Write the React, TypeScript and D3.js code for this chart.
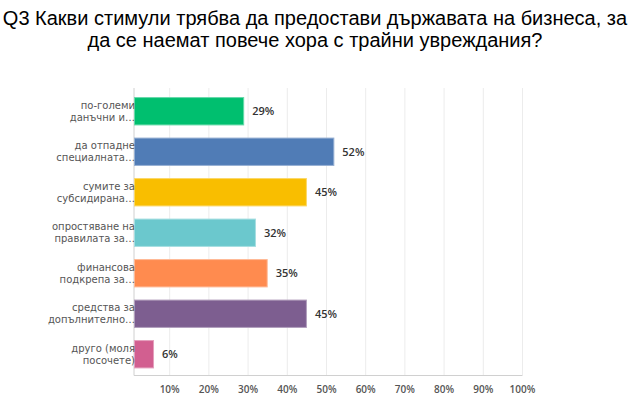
import React from 'react';
import * as d3 from 'd3';

const titleLines = [
    "Q3 Какви стимули трябва да предостави държавата на бизнеса, за",
    "да се наемат повече хора с трайни увреждания?"
];

const categories = [
    ["по-големи", "данъчни и…"],
    ["да отпадне", "специалната…"],
    ["сумите за", "субсидирана…"],
    ["опростяване на", "правилата за…"],
    ["финансова", "подкрепа за…"],
    ["средства за", "допълнително…"],
    ["друго (моля", "посочете)"]
];

const values = [0.29, 0.52, 0.45, 0.32, 0.35, 0.45, 0.06];

const colors = ["#00bf6f", "#507cb6", "#f9be00", "#6bc8cd", "#ff8b4f", "#7d5e90", "#d25f90"];
const strokes = ["#66d9a9", "#96b0d3", "#fbd866", "#a6dee1", "#ffb995", "#b19ebc", "#e49fbc"];

const ticks = [0.1, 0.2, 0.3, 0.4, 0.5, 0.6, 0.7, 0.8, 0.9, 1.0];

const App = () => {
    const width = 630, height = 399;

    const x = d3.scaleLinear()
        .domain([0, 1])
        .range([130.5, 522.5]);

    const y = d3.scaleBand<number>()
        .domain(d3.range(categories.length))
        .range([91, 374.5])
        .paddingInner(0.3)
        .paddingOuter(0.15);

    const axisX = x(0) + 3.5;
    const fmt = d3.format(".0%");
    const font = "'Open Sans', sans-serif";

    return (
        <svg width={width} height={height} style={{ position: "absolute", left: 0, top: 0 }}>
            <rect width={width} height={height} fill="#fff" />
            {titleLines.map((t, i) => (
                <text key={i} x={width / 2} y={25 + i * 22} textAnchor="middle"
                    fontFamily="'Liberation Sans', Arial, sans-serif" fontSize={20} fill="#000">
                    {t}
                </text>
            ))}
            {ticks.map(t => (
                <line key={t} x1={x(t)} x2={x(t)} y1={88} y2={375} stroke="#ececec" strokeWidth={1} />
            ))}
            <line x1={axisX} x2={axisX} y1={88} y2={375.5} stroke="#d0d0d0" strokeWidth={1} />
            <line x1={axisX} x2={x(1)} y1={375.5} y2={375.5} stroke="#d0d0d0" strokeWidth={1} />
            {ticks.map(t => (
                <text key={t} x={x(t)} y={392.5} textAnchor="middle" fontFamily={font}
                    fontSize={10} fontWeight={600} fill="#555">
                    {fmt(t)}
                </text>
            ))}
            {values.map((v, i) => {
                const by = y(i)!;
                const bh = y.bandwidth();
                return (
                    <g key={i}>
                        <rect x={axisX + 0.5} y={by + 0.5} width={x(v) - axisX - 1} height={bh - 1}
                            fill={colors[i]} stroke={strokes[i]} strokeWidth={1} />
                        <text x={x(v) + 8} y={by + bh / 2 + 4} fontFamily={font} fontSize={11}
                            fontWeight={600} fill="#333">
                            {fmt(v)}
                        </text>
                        {categories[i].map((line, j) => (
                            <text key={j} x={axisX + 1} y={by + bh / 2 - 2.5 + j * 12} textAnchor="end"
                                fontFamily="'DejaVu Sans', sans-serif" fontSize={10} fill="#555">
                                {line}
                            </text>
                        ))}
                    </g>
                );
            })}
        </svg>
    );
};

export default App;
